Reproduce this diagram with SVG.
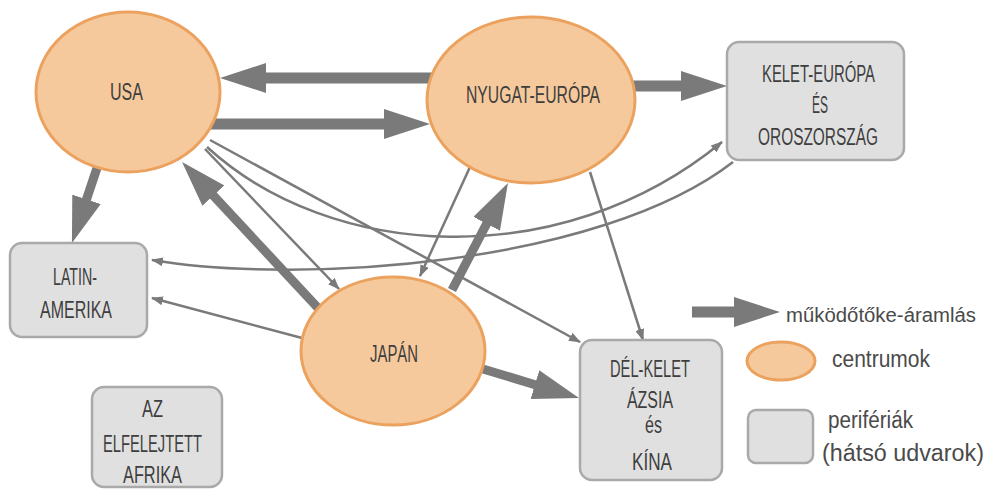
<svg xmlns="http://www.w3.org/2000/svg" width="990" height="491" viewBox="0 0 990 491">
<defs>
<style>
.bg{fill:#ffffff}
.centre{fill:#f6c99c;stroke:#eba25e;stroke-width:3}
.peri{fill:#e0e0e0;stroke:#a9a9a9;stroke-width:2.5}
.lbl{font-family:"Liberation Sans","DejaVu Sans",sans-serif;font-size:23px;fill:#3e3e3e}
.leg{font-family:"Liberation Sans","DejaVu Sans",sans-serif;font-size:23px;fill:#4a4a4a}
.thick{fill:none;stroke:#7a7a7a;stroke-width:11;marker-end:url(#big)}
.mid{fill:none;stroke:#7a7a7a;stroke-width:9;marker-end:url(#big)}
.thin{fill:none;stroke:#7a7a7a;stroke-width:2.5;marker-end:url(#small)}
</style>
<marker id="big" markerUnits="userSpaceOnUse" markerWidth="46" markerHeight="30" viewBox="0 0 46 30" refX="1" refY="15" orient="auto"><path d="M0,0 L46,15 L0,30 z" fill="#7a7a7a"/></marker>
<marker id="small" markerUnits="userSpaceOnUse" markerWidth="12" markerHeight="9" viewBox="0 0 12 9" refX="11" refY="4.5" orient="auto"><path d="M0,0 L12,4.5 L0,9 z" fill="#7a7a7a"/></marker>
</defs>
<rect class="bg" x="0" y="0" width="990" height="491"/>

<g id="connectors">
<path class="thick" d="M432,78 L265,78"/>
<path class="thick" d="M210,124 L385,124"/>
<path class="thick" d="M630,86 L682,86"/>
<path class="mid" d="M97,168 L86.2,200.3"/>
<path class="mid" d="M318,308 L212.7,194.9"/>
<path class="mid" d="M452,290 L487.1,222.9"/>
<path class="mid" d="M483,369 L535.9,385"/>
<path class="thin" d="M205,149 L339,289"/>
<path class="thin" d="M210,140 L580,342"/>
<path class="thin" d="M207,147 C330,260 560,275 722,142"/>
<path class="thin" d="M733,162 C600,265 300,285 152,260"/>
<path class="thin" d="M470,167 L420,276"/>
<path class="thin" d="M590,172 L643,340"/>
<path class="thin" d="M302,338 L152,298"/>
</g>

<g id="usa">
<ellipse class="centre" cx="128" cy="92" rx="92" ry="80"/>
<text class="lbl" x="110" y="100" textLength="33" lengthAdjust="spacingAndGlyphs">USA</text>
</g>
<g id="nyugat-europa">
<ellipse class="centre" cx="531" cy="100" rx="104" ry="83"/>
<text class="lbl" x="466" y="103" textLength="134" lengthAdjust="spacingAndGlyphs">NYUGAT-EURÓPA</text>
</g>
<g id="japan">
<ellipse class="centre" cx="393" cy="351" rx="92" ry="74"/>
<text class="lbl" x="370" y="362" textLength="48" lengthAdjust="spacingAndGlyphs">JAPÁN</text>
</g>
<g id="kelet-europa">
<rect class="peri" x="727" y="42" width="177" height="118" rx="12"/>
<text class="lbl" x="762" y="82" textLength="113" lengthAdjust="spacingAndGlyphs">KELET-EURÓPA</text>
<text class="lbl" x="812" y="113" textLength="16" lengthAdjust="spacingAndGlyphs">ÉS</text>
<text class="lbl" x="758" y="145" textLength="120" lengthAdjust="spacingAndGlyphs">OROSZORSZÁG</text>
</g>
<g id="latin-amerika">
<rect class="peri" x="10" y="243" width="137" height="94" rx="12"/>
<text class="lbl" x="53" y="285" textLength="44" lengthAdjust="spacingAndGlyphs">LATIN-</text>
<text class="lbl" x="40" y="318" textLength="72" lengthAdjust="spacingAndGlyphs">AMERIKA</text>
</g>
<g id="afrika">
<rect class="peri" x="92" y="387" width="130" height="100" rx="12"/>
<text class="lbl" x="142" y="417" textLength="21" lengthAdjust="spacingAndGlyphs">AZ</text>
<text class="lbl" x="103" y="452" textLength="99" lengthAdjust="spacingAndGlyphs">ELFELEJTETT</text>
<text class="lbl" x="123" y="483" textLength="59" lengthAdjust="spacingAndGlyphs">AFRIKA</text>
</g>
<g id="del-kelet-azsia">
<rect class="peri" x="580" y="340" width="142" height="140" rx="12"/>
<text class="lbl" x="610" y="377" textLength="80" lengthAdjust="spacingAndGlyphs">DÉL-KELET</text>
<text class="lbl" x="627" y="408" textLength="46" lengthAdjust="spacingAndGlyphs">ÁZSIA</text>
<text class="lbl" x="645" y="433" textLength="17" lengthAdjust="spacingAndGlyphs">és</text>
<text class="lbl" x="632" y="470" textLength="40" lengthAdjust="spacingAndGlyphs">KÍNA</text>
</g>

<g id="legend">
<path class="thick" d="M692,312 L735,312"/>
<text class="leg" x="786" y="322" font-size="20" textLength="190" lengthAdjust="spacingAndGlyphs" style="font-size:20px">működőtőke-áramlás</text>
<ellipse class="centre" cx="781" cy="361" rx="34" ry="19"/>
<text class="leg" x="832" y="367" textLength="98" lengthAdjust="spacingAndGlyphs">centrumok</text>
<rect class="peri" x="748" y="410" width="65" height="53" rx="8"/>
<text class="leg" x="828" y="428" textLength="85" lengthAdjust="spacingAndGlyphs">perifériák</text>
<text class="leg" x="822" y="461" textLength="162" lengthAdjust="spacingAndGlyphs">(hátsó udvarok)</text>
</g>
</svg>
